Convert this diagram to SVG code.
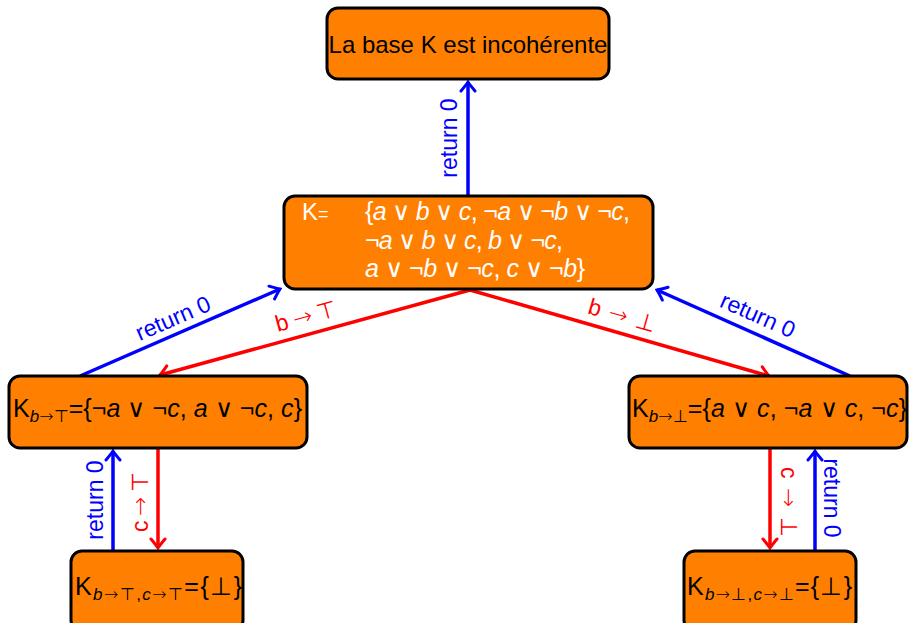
<svg xmlns="http://www.w3.org/2000/svg" width="909" height="623" viewBox="0 0 909 623">
  <style>
    .box { fill: #FF8000; stroke: #000; stroke-width: 3; }
    .t { font-family: "Liberation Sans", Arial, sans-serif; font-size: 25px; fill: #000; }
    .t24 { font-size: 24px; }
    .w { fill: #fff; }
    .i { font-style: italic; }
    .s { font-family: "DejaVu Sans", sans-serif; font-style: normal; font-weight: 200; }
    .sub { font-size: 17px; }
    .blue { stroke: #0000FF; stroke-width: 3.5; fill: none; }
    .red { stroke: #FF0000; stroke-width: 3.5; fill: none; }
    .lb { font-family: "Liberation Sans", Arial, sans-serif; font-size: 23px; fill: #0000FF; }
    .lr { font-family: "Liberation Sans", Arial, sans-serif; font-size: 23px; fill: #FF0000; }
  </style>
  <defs>
    <marker id="ab" viewBox="-12 -9 14 18" markerWidth="14" markerHeight="18" refX="0" refY="0" orient="auto" markerUnits="userSpaceOnUse">
      <path d="M-9,-7 Q-3,-2 0,0 Q-3,2 -9,7" fill="none" stroke="#0000FF" stroke-width="3" stroke-linecap="round"/>
    </marker>
    <marker id="ar" viewBox="-12 -9 14 18" markerWidth="14" markerHeight="18" refX="0" refY="0" orient="auto" markerUnits="userSpaceOnUse">
      <path d="M-9,-7 Q-3,-2 0,0 Q-3,2 -9,7" fill="none" stroke="#FF0000" stroke-width="3" stroke-linecap="round"/>
    </marker>
  </defs>

  <!-- connectors -->
  <g id="edges">
    <line class="blue" x1="468" y1="196" x2="468" y2="82" marker-end="url(#ab)"/>
    <text class="lb" transform="translate(457,138) rotate(-90)" text-anchor="middle">return 0</text>

    <line class="blue" x1="80" y1="376" x2="280" y2="289" marker-end="url(#ab)"/>
    <text class="lb" transform="translate(173,318) rotate(-23.5)" text-anchor="middle" dy="8">return 0</text>

    <line class="red" x1="470" y1="290" x2="160" y2="375" marker-end="url(#ar)"/>
    <text class="lr" transform="translate(306,316) rotate(-15.4)" text-anchor="middle" dy="8" textLength="63" lengthAdjust="spacing">b <tspan class="s">→</tspan> <tspan class="s">⊤</tspan></text>

    <line class="red" x1="470" y1="290" x2="769" y2="376" marker-end="url(#ar)"/>
    <text class="lr" transform="translate(622,315) rotate(16)" text-anchor="middle" dy="8" textLength="69" lengthAdjust="spacing">b <tspan class="s">→</tspan> <tspan class="s">⊥</tspan></text>

    <line class="blue" x1="850" y1="376" x2="657" y2="290" marker-end="url(#ab)"/>
    <text class="lb" transform="translate(758,315) rotate(23.8)" text-anchor="middle" dy="8">return 0</text>

    <line class="blue" x1="113" y1="551" x2="113" y2="451" marker-end="url(#ab)"/>
    <text class="lb" transform="translate(103,500) rotate(-90)" text-anchor="middle">return 0</text>
    <line class="red" x1="158" y1="448" x2="158" y2="548" marker-end="url(#ar)"/>
    <text class="lr" transform="translate(148,502) rotate(-90)" text-anchor="middle" textLength="60" lengthAdjust="spacing">c <tspan class="s">→</tspan> <tspan class="s">⊤</tspan></text>

    <line class="red" x1="770" y1="448" x2="770" y2="548" marker-end="url(#ar)"/>
    <text class="lr" transform="translate(781,502) rotate(90)" text-anchor="middle" textLength="70" lengthAdjust="spacing">c <tspan class="s">→</tspan> <tspan class="s">⊥</tspan></text>
    <line class="blue" x1="815" y1="551" x2="815" y2="451" marker-end="url(#ab)"/>
    <text class="lb" transform="translate(824,498) rotate(90)" text-anchor="middle">return 0</text>
  </g>

  <!-- nodes -->
  <g id="n-incoherent">
    <rect class="box" x="327" y="8" width="282" height="71" rx="11"/>
    <text class="t t24" x="468" y="53" text-anchor="middle">La base K est incohérente</text>
  </g>

  <g id="n-K">
    <rect class="box" x="284" y="196" width="369" height="93" rx="11"/>
    <text class="t t24 w" x="302" y="220">K<tspan style="font-size:18px">=</tspan></text>
    <text class="t w" x="365" y="220" textLength="265" lengthAdjust="spacing">{<tspan class="i">a</tspan> <tspan class="s">∨</tspan> <tspan class="i">b</tspan> <tspan class="s">∨</tspan> <tspan class="i">c</tspan>, ¬<tspan class="i">a</tspan> <tspan class="s">∨</tspan> ¬<tspan class="i">b</tspan> <tspan class="s">∨</tspan> ¬<tspan class="i">c</tspan>,</text>
    <text class="t w" x="365" y="249" textLength="198" lengthAdjust="spacing">¬<tspan class="i">a</tspan> <tspan class="s">∨</tspan> <tspan class="i">b</tspan> <tspan class="s">∨</tspan> <tspan class="i">c</tspan>, <tspan class="i">b</tspan> <tspan class="s">∨</tspan> ¬<tspan class="i">c</tspan>,</text>
    <text class="t w" x="365" y="277" textLength="220" lengthAdjust="spacing"><tspan class="i">a</tspan> <tspan class="s">∨</tspan> ¬<tspan class="i">b</tspan> <tspan class="s">∨</tspan> ¬<tspan class="i">c</tspan>, <tspan class="i">c</tspan> <tspan class="s">∨</tspan> ¬<tspan class="i">b</tspan>}</text>
  </g>

  <g id="n-bT">
    <rect class="box" x="9" y="376" width="298" height="72" rx="11"/>
    <text class="t" x="13" y="417" textLength="289" lengthAdjust="spacing">K<tspan class="sub" dy="5"><tspan class="i">b</tspan><tspan class="s">→⊤</tspan></tspan><tspan dy="-5">={¬<tspan class="i">a</tspan> <tspan class="s">∨</tspan> ¬<tspan class="i">c</tspan>, <tspan class="i">a</tspan> <tspan class="s">∨</tspan> ¬<tspan class="i">c</tspan>, <tspan class="i">c</tspan>}</tspan></text>
  </g>

  <g id="n-bF">
    <rect class="box" x="629" y="376" width="278" height="72" rx="11"/>
    <text class="t" x="632" y="417" textLength="275" lengthAdjust="spacing">K<tspan class="sub" dy="5"><tspan class="i">b</tspan><tspan class="s">→⊥</tspan></tspan><tspan dy="-5">={<tspan class="i">a</tspan> <tspan class="s">∨</tspan> <tspan class="i">c</tspan>, ¬<tspan class="i">a</tspan> <tspan class="s">∨</tspan> <tspan class="i">c</tspan>, ¬<tspan class="i">c</tspan>}</tspan></text>
  </g>

  <g id="n-bTcT">
    <rect class="box" x="71" y="551" width="172" height="80" rx="11"/>
    <text class="t" x="75" y="595" textLength="167" lengthAdjust="spacing">K<tspan class="sub" dy="5"><tspan class="i">b</tspan><tspan class="s">→⊤</tspan>,<tspan class="i">c</tspan><tspan class="s">→⊤</tspan></tspan><tspan dy="-5">={<tspan class="s">⊥</tspan>}</tspan></text>
  </g>

  <g id="n-bFcF">
    <rect class="box" x="684" y="551" width="172" height="80" rx="11"/>
    <text class="t" x="687" y="595" textLength="165" lengthAdjust="spacing">K<tspan class="sub" dy="5"><tspan class="i">b</tspan><tspan class="s">→⊥</tspan>,<tspan class="i">c</tspan><tspan class="s">→⊥</tspan></tspan><tspan dy="-5">={<tspan class="s">⊥</tspan>}</tspan></text>
  </g>
</svg>
